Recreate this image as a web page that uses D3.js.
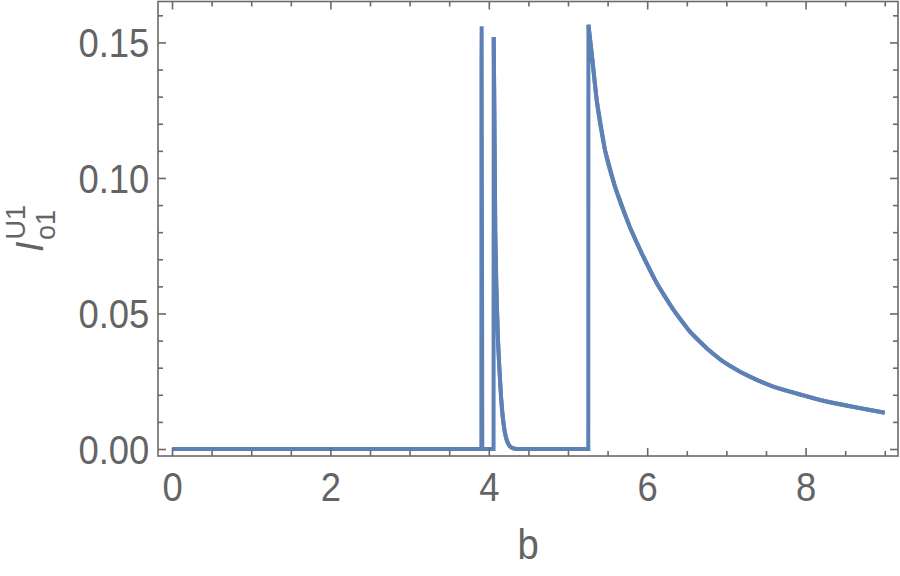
<!DOCTYPE html>
<html>
<head>
<meta charset="utf-8">
<script src="https://cdn.jsdelivr.net/npm/d3@7"></script>
<style>
  html, body { margin: 0; padding: 0; background: #fff; }
  svg { display: block; }
  text { font-family: "Liberation Sans", Arial, sans-serif; fill: #646464; }
</style>
</head>
<body>
<svg id="chart" width="900" height="576"></svg>
<script>
// ---- data ----
const bValues = [0, 3.906, 3.907, 3.910, 3.918, 4.060, 4.062, 4.070, 4.082, 4.100, 4.115, 4.133, 4.155, 4.176, 4.200, 4.226, 4.260, 4.300, 4.350,
  5.256, 5.258, 5.299, 5.362, 5.467, 5.593, 5.778, 5.931, 6.120, 6.330, 6.540, 6.751, 6.961, 7.172, 7.383, 7.592, 7.908, 8.223, 8.645, 9.0];
const iValues = [0, 0, 0.1435, 0.156, 0, 0, 0.152, 0.125, 0.080, 0.055, 0.041, 0.030, 0.019, 0.0118, 0.0065, 0.0033, 0.0012, 0.0003, 0,
  0, 0.1565, 0.1460, 0.1288, 0.1103, 0.0968, 0.0821, 0.0722, 0.0612, 0.0514, 0.0433, 0.0372, 0.0322, 0.0285, 0.0255, 0.0230, 0.0203, 0.0178, 0.0153, 0.0134];
const xTicks = [0, 2, 4, 6, 8];
const xTickLabels = ["0", "2", "4", "6", "8"];
const yTicks = [0, 0.05, 0.10, 0.15];
const yTickLabels = ["0.00", "0.05", "0.10", "0.15"];
const xMinor = [0.5, 1, 1.5, 2.5, 3, 3.5, 4.5, 5, 5.5, 6.5, 7, 7.5, 8.5, 9];
const yMinor = [0.01, 0.02, 0.03, 0.04, 0.06, 0.07, 0.08, 0.09, 0.11, 0.12, 0.13, 0.14, 0.16];
const xLabel = "b";

// ---- layout ----
const L = 158, R = 898, T = 1.5, B = 456;
const svg = d3.select("#chart");
const x = d3.scaleLinear().domain([-0.177, 9.167]).range([L, R]);
const y = d3.scaleLinear().domain([-0.00258, 0.1651]).range([B, T]);
const frameColor = "#6a6a6a";
const lineColor = "#5E81B5";
const SX = 0.91; // horizontal squeeze of tick labels

// frame
svg.append("rect").attr("x", L).attr("y", T).attr("width", R - L).attr("height", B - T)
  .attr("fill", "none").attr("stroke", frameColor).attr("stroke-width", 1.6);

// curve: linear base path (sharp corners), smooth overlays on the decaying parts
const pts = bValues.map((b, i) => [b, iValues[i]]);
svg.append("path").datum(pts)
  .attr("fill", "none").attr("stroke", lineColor).attr("stroke-width", 4)
  .attr("stroke-linejoin", "miter").attr("stroke-miterlimit", 4)
  .attr("d", d3.line().x(d => x(d[0])).y(d => y(d[1])));
const smooth = d3.line().curve(d3.curveMonotoneX).x(d => x(d[0])).y(d => y(d[1]));
const peakIdx = [6, 20];
const endIdx = [18, pts.length - 1];
peakIdx.forEach((p, k) => {
  svg.append("path").datum(pts.slice(p, endIdx[k] + 1))
    .attr("fill", "none").attr("stroke", lineColor).attr("stroke-width", 4)
    .attr("d", smooth);
});

function styleAxis(g) {
  g.select(".domain").remove();
  g.selectAll("line").attr("stroke", frameColor).attr("stroke-width", 1.6);
  g.selectAll("text").attr("fill", "#646464").style("font-size", "40px")
    .style("font-family", "'Liberation Sans', Arial, sans-serif");
}
// bottom
const gb = svg.append("g").attr("transform", `translate(0,${B})`)
  .call(d3.axisBottom(x).tickValues(xTicks).tickFormat((d, i) => xTickLabels[i]).tickSizeInner(-8).tickPadding(17))
  .call(styleAxis);
gb.selectAll("text").attr("dy", "0.71em").attr("transform", `scale(${SX},1)`);
svg.append("g").attr("transform", `translate(0,${B})`)
  .call(d3.axisBottom(x).tickValues(xMinor).tickFormat("").tickSizeInner(-5)).call(styleAxis);
// top
svg.append("g").attr("transform", `translate(0,${T})`)
  .call(d3.axisTop(x).tickValues(xTicks).tickFormat("").tickSizeInner(-8)).call(styleAxis);
svg.append("g").attr("transform", `translate(0,${T})`)
  .call(d3.axisTop(x).tickValues(xMinor).tickFormat("").tickSizeInner(-5)).call(styleAxis);
// left
const gl = svg.append("g").attr("transform", `translate(${L},0)`)
  .call(d3.axisLeft(y).tickValues(yTicks).tickFormat((d, i) => yTickLabels[i]).tickSizeInner(-8).tickPadding(8.7 / SX))
  .call(styleAxis);
gl.selectAll("text").attr("dy", "0.36em").attr("transform", `scale(${SX},1)`);
svg.append("g").attr("transform", `translate(${L},0)`)
  .call(d3.axisLeft(y).tickValues(yMinor).tickFormat("").tickSizeInner(-5)).call(styleAxis);
// right
svg.append("g").attr("transform", `translate(${R},0)`)
  .call(d3.axisRight(y).tickValues(yTicks).tickFormat("").tickSizeInner(-8)).call(styleAxis);
svg.append("g").attr("transform", `translate(${R},0)`)
  .call(d3.axisRight(y).tickValues(yMinor).tickFormat("").tickSizeInner(-5)).call(styleAxis);

// x axis label
svg.append("text").attr("transform", `translate(${(L + R) / 2},559) scale(${SX},1)`).attr("text-anchor", "middle")
  .style("font-size", "42px").text(xLabel);

// y axis label: I with superscript U1 and subscript o1, rotated
const yl = svg.append("text").attr("transform", "translate(43,252) rotate(-90)");
yl.append("tspan").style("font-size", "38px").style("font-style", "italic").text("I");
yl.append("tspan").attr("dx", 2).attr("dy", -18).style("font-size", "27px").text("U1");
yl.append("tspan").attr("dx", -35).attr("dy", 30).style("font-size", "27px").text("o1");
</script>
</body>
</html>
